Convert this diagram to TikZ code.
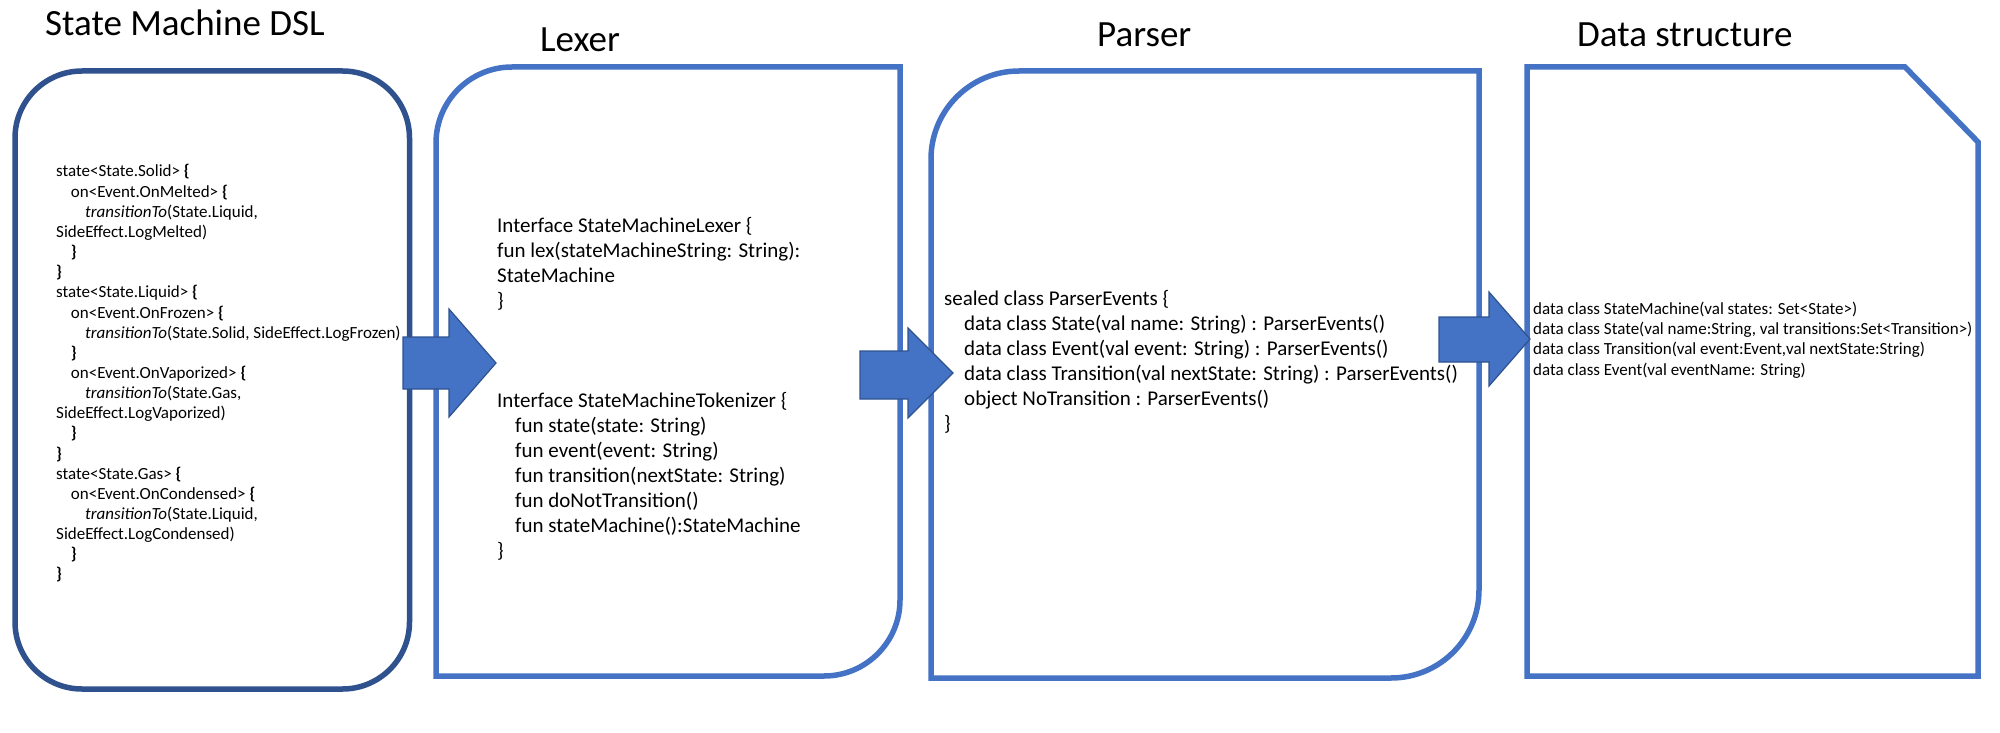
\documentclass[tikz,border=0pt]{standalone}
\usepackage{fontspec}
\setmainfont{Carlito}
\definecolor{acc}{HTML}{4472C4}
\definecolor{accdk}{HTML}{2F528F}
\newcommand\obr{\textbf{\{}}
\newcommand\cbr{\textbf{\}}}
\begin{document}
\begin{tikzpicture}[x=1pt,y=-1pt,
  boxline/.style={line width=5.5pt, draw=acc},
  blockarrow/.style={fill=acc, draw=accdk, line width=1.2pt, line join=miter},
  title/.style={anchor=base west, inner sep=0pt, font=\fontsize{37}{44}\selectfont},
  codea/.style={anchor=west, inner sep=0pt, align=left, font=\fontsize{17}{20.15}\selectfont},
  codeb/.style={anchor=west, inner sep=0pt, align=left, font=\fontsize{21}{25}\selectfont},
  coded/.style={anchor=west, inner sep=0pt, align=left, font=\fontsize{17}{20.4}\selectfont}]
\useasboundingbox (0,0) rectangle (2000,733);
\fill[white] (0,0) rectangle (2000,733);

% titles
\node[title] (tdsl) at (45,36) {State Machine DSL};
\node[title] (tlex) at (540,52) {Lexer};
\node[title] (tpar) at (1097,47) {Parser};
\node[title] (tdat) at (1577,47) {Data structure};

% boxes
\draw[boxline, draw=accdk, rounded corners=67pt] (15,71) rectangle (409.5,689);
\draw[boxline] (436,676) -- (436,143) arc (180:270:76) -- (900,67) -- (900,600) arc (0:90:76) -- cycle;
\draw[boxline] (931,678) -- (931,159) arc (180:270:88) -- (1479,71) -- (1479,590) arc (0:90:88) -- cycle;
\draw[boxline] (1527,67) -- (1905,67) -- (1978,142) -- (1978,676) -- (1527,676) -- cycle;

% texts
\node[codea] (dsl) at (56,373.5) {%
state<State.Solid> \obr\\
\hspace*{14.7pt}on<Event.OnMelted> \obr\\
\hspace*{29pt}\textit{transitionTo}(State.Liquid,\\
SideEffect.LogMelted)\\
\hspace*{14.7pt}\cbr\\
\cbr\\
state<State.Liquid> \obr\\
\hspace*{14.7pt}on<Event.OnFrozen> \obr\\
\hspace*{29pt}\textit{transitionTo}(State.Solid, SideEffect.LogFrozen)\\
\hspace*{14.7pt}\cbr\\
\hspace*{14.7pt}on<Event.OnVaporized> \obr\\
\hspace*{29pt}\textit{transitionTo}(State.Gas,\\
SideEffect.LogVaporized)\\
\hspace*{14.7pt}\cbr\\
\cbr\\
state<State.Gas> \obr\\
\hspace*{14.7pt}on<Event.OnCondensed> \obr\\
\hspace*{29pt}\textit{transitionTo}(State.Liquid,\\
SideEffect.LogCondensed)\\
\hspace*{14.7pt}\cbr\\
\cbr};

\node[codeb] (lex) at (497,388.5) {%
Interface StateMachineLexer \{\\
fun lex(stateMachineString: String):\\
StateMachine\\
\}\\[75pt]
Interface StateMachineTokenizer \{\\
\hspace*{18pt}fun state(state: String)\\
\hspace*{18pt}fun event(event: String)\\
\hspace*{18pt}fun transition(nextState: String)\\
\hspace*{18pt}fun doNotTransition()\\
\hspace*{18pt}fun stateMachine():StateMachine\\
\}};

\node[codeb] (par) at (944,361.5) {%
sealed class ParserEvents \{\\
\hspace*{20pt}data class State(val name: String) : ParserEvents()\\
\hspace*{20pt}data class Event(val event: String) : ParserEvents()\\
\hspace*{20pt}data class Transition(val nextState: String) : ParserEvents()\\
\hspace*{20pt}object NoTransition : ParserEvents()\\
\}};

\node[coded] (dat) at (1533,340) {%
data class StateMachine(val states: Set<State>)\\
data class State(val name:String, val transitions:Set<Transition>)\\
data class Transition(val event:Event,val nextState:String)\\
data class Event(val eventName: String)};

% block arrows
\draw[blockarrow] (403,337) -- (449,337) -- (449,309) -- (496,363) -- (449,417) -- (449,389) -- (403,389) -- cycle;
\draw[blockarrow] (860,351) -- (908,351) -- (908,328) -- (953,373) -- (908,418) -- (908,399) -- (860,399) -- cycle;
\draw[blockarrow] (1439,317) -- (1489,317) -- (1489,292) -- (1530,339) -- (1489,386) -- (1489,362) -- (1439,362) -- cycle;
\end{tikzpicture}
\end{document}
